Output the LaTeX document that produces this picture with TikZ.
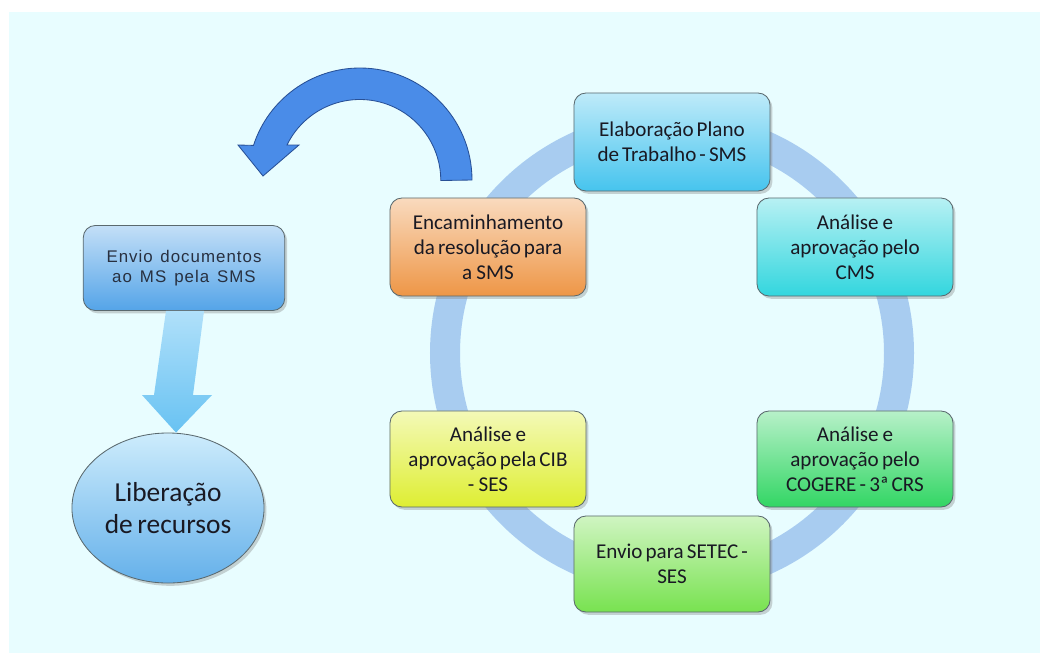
\documentclass[tikz,border=0pt]{standalone}
\usepackage{fontspec}
\setmainfont{Carlito}
\newfontfamily\envfont{Liberation Sans}[LetterSpace=6]
\usetikzlibrary{shadows,shapes.geometric,calc}
\newcommand\tightspaces{\spaceskip=0.13em plus 0.04em\relax}
\newcommand\widespaces{\spaceskip=0.4em plus 0.1em\relax}

\definecolor{bgcyan}{RGB}{232,253,255}
\definecolor{ringblue}{RGB}{168,204,240}
\definecolor{arcblue}{RGB}{74,140,232}
\definecolor{arcedge}{RGB}{40,80,150}
\definecolor{boxedge}{RGB}{90,105,110}
\definecolor{txtdark}{RGB}{25,25,35}
\definecolor{envtxt}{RGB}{40,48,64}
\definecolor{elabfill}{RGB}{70,196,238}
\definecolor{cmsfill}{RGB}{50,214,222}
\definecolor{cogfill}{RGB}{50,214,100}
\definecolor{setecfill}{RGB}{120,226,80}
\definecolor{cibfill}{RGB}{222,238,50}
\definecolor{encfill}{RGB}{238,150,70}
\definecolor{enviofill}{RGB}{84,164,232}
\definecolor{libtop}{RGB}{205,236,252}
\definecolor{libbottom}{RGB}{100,176,234}
\definecolor{downtop}{RGB}{176,224,250}
\definecolor{downbottom}{RGB}{104,194,242}

\tikzset{
  boxbase/.style={draw=boxedge, line width=0.6pt, rounded corners=0.3cm,
    align=center,
    drop shadow={shadow xshift=0.06cm, shadow yshift=-0.07cm, opacity=0.35}},
  stage/.style={boxbase, minimum width=4.9cm, minimum height=2.45cm, text width=4.6cm,
    text=txtdark, font=\fontsize{15}{17.7}\selectfont,
    execute at begin node=\tightspaces},
  sideshade/.style={top color=#1!35!white, bottom color=#1}
}

\begin{document}
\begin{tikzpicture}[x=0.025cm,y=-0.025cm]
    % background
    \fill[white] (0,0) rectangle (1040,653);
    \fill[bgcyan] (9,12) rectangle (1040,653);

    % cycle ring
    \draw[ringblue, line width=0.75cm] (672,353) circle [radius=227];

    % cycle stages
    \node[stage, sideshade=elabfill] (elab) at (672,142)
        {Elaboração Plano\\ de Trabalho - SMS};
    \node[stage, sideshade=cmsfill] (cms) at (855,247)
        {Análise e\\ aprovação pelo\\ CMS};
    \node[stage, minimum height=2.4cm, sideshade=cogfill] (cogere) at (855,459)
        {Análise e\\ aprovação pelo\\ COGERE - 3ª CRS};
    \node[stage, minimum height=2.4cm, sideshade=setecfill] (setec) at (672,564)
        {Envio para SETEC -\\ SES};
    \node[stage, minimum height=2.4cm, sideshade=cibfill] (cib) at (488,459)
        {Análise e\\ aprovação pela CIB\\ - SES};
    \node[stage, sideshade=encfill] (enc) at (488,247)
        {Encaminhamento\\ da resolução para\\ a SMS};

    % return arrow
    \draw[arcedge, line width=0.6pt, fill=arcblue]
        (472,180) arc[start angle=0, end angle=-162, radius=112]
        -- (238,145) -- (263,176) -- (299,145) -- (287,145)
        arc[start angle=-154, end angle=0, radius=81] -- cycle;

    % left branch
    \node[boxbase, minimum width=4.875cm, minimum height=2.125cm, text width=4.8cm,
          font=\envfont\fontsize{12}{14.2}\selectfont, text=envtxt,
          execute at begin node=\widespaces, sideshade=enviofill] (envio) at (184,268)
        {Envio documentos\\ ao MS pela SMS};
    \node[draw=boxedge, line width=0.6pt, ellipse, minimum width=4.6cm, minimum height=3.75cm,
          align=center, text=txtdark, font=\fontsize{19.5}{22.7}\selectfont,
          top color=libtop, bottom color=libbottom,
          drop shadow={shadow xshift=0.06cm, shadow yshift=-0.07cm, opacity=0.35}] (lib) at (168,508)
        {Liberação\\ de\,recursos};
    \shade[top color=downtop, bottom color=downbottom]
        ($(envio.south)+(-18,0)$) -- ($(envio.south)+(20,0)$) -- (193,395) -- (212,395)
        -- ($(lib.north)+(8,0)$) -- (142,395) -- (154,395) -- cycle;
\end{tikzpicture}
\end{document}
